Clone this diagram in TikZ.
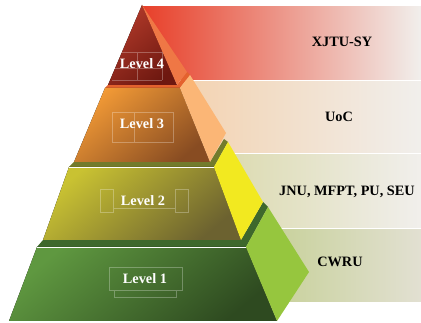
\documentclass[tikz,border=0pt]{standalone}
\usepackage{fontspec}
\setmainfont{Liberation Serif}
\usepackage{xcolor}
\usepackage{tikz}

% band colours
\definecolor{bandRed}{HTML}{E8402A}
\definecolor{bandRedMid}{HTML}{E9957A}
\definecolor{bandPeach}{HTML}{F3D2B0}
\definecolor{bandOlive}{HTML}{D9D8A8}
\definecolor{bandGreen}{HTML}{C2CE8E}
\definecolor{bandEnd}{HTML}{F1EFEC}
\definecolor{bandEndG}{HTML}{E2E0D2}

% pyramid colours
\definecolor{topFront}{HTML}{B23A2A}
\definecolor{topDark}{HTML}{6E1810}
\definecolor{topSide}{HTML}{EF7745}
\definecolor{orStrip}{HTML}{E4622E}
\definecolor{orFront}{HTML}{F29A36}
\definecolor{orDark}{HTML}{884C22}
\definecolor{orSide}{HTML}{FBB676}
\definecolor{olStrip}{HTML}{737B2C}
\definecolor{olFront}{HTML}{C9C232}
\definecolor{olDark}{HTML}{6C6230}
\definecolor{olSide}{HTML}{F2E920}
\definecolor{grStrip}{HTML}{3E682C}
\definecolor{grFront}{HTML}{5F9840}
\definecolor{grDark}{HTML}{2E4A20}
\definecolor{grSide}{HTML}{96C63E}

\begin{document}
\begin{tikzpicture}[
		x=1pt, y=-1pt,
		font=\bfseries\fontsize{14.3}{16}\selectfont,
		lvl/.style={text=white, inner sep=1pt},
		src/.style={text=black, inner sep=1pt},
		frame/.style={draw=white, draw opacity=0.28, line width=0.4pt},
		seam/.style={draw=white, line width=0.7pt}
		]
		
		\useasboundingbox (0,0) rectangle (421,323);
		
		% Bands behind the pyramid
		\fill[left color=bandRed, middle color=bandRedMid, right color=bandEnd]
		(143,7) rectangle (421,80);
		\fill[left color=bandPeach, right color=bandEnd] (180,82) rectangle (421,153);
		\fill[left color=bandOlive, right color=bandEnd] (200,155) rectangle (421,228);
		\fill[left color=bandGreen, right color=bandEndG] (240,230) rectangle (421,302);
		
		% Level 1
		\fill[grStrip] (43,240) -- (241,240) -- (263,202) -- (268,207) -- (246,247) -- (37,247) -- cycle;
		\fill[top color=grFront, bottom color=grDark, shading angle=40]
		(37,247) -- (246,247) -- (277,321) -- (9,321) -- cycle;
		\fill[grSide] (246,247) -- (268,207) -- (309,272) -- (277,321) -- cycle;
		\draw[seam] (37,247) -- (246,247);
		
		% Level 2
		\fill[olStrip] (74,162) -- (210,162) -- (224,139) -- (228,142) -- (214,167) -- (69,167) -- cycle;
		\fill[top color=olFront, bottom color=olDark, shading angle=40]
		(69,167) -- (214,167) -- (241,240) -- (43,240) -- cycle;
		\fill[olSide] (214,167) -- (228,142) -- (263,202) -- (241,240) -- cycle;
		\draw[seam] (69,167) -- (214,167);
		
		% Level 3
		\fill[orStrip] (108,85) -- (177,85) -- (187,72) -- (190,75) -- (180,88) -- (105,88) -- cycle;
		\fill[top color=orFront, bottom color=orDark, shading angle=40]
		(105,88) -- (180,88) -- (210,162) -- (74,162) -- cycle;
		\fill[orSide] (180,88) -- (190,75) -- (226,133) -- (210,162) -- cycle;
		
		% Level 4
		\fill[top color=topFront, bottom color=topDark, shading angle=40]
		(142,5) -- (177,85) -- (108,85) -- cycle;
		\fill[topSide] (142,5) -- (187,72) -- (177,85) -- cycle;
		
		% faint frames round the level labels
		\draw[frame] (112,52) -- (162,52) -- (162,80) (112,68) -- (162,68) (137,52) -- (137,80)
		(112,80) -- (162,80);
		\draw[frame] (112,112) rectangle (173,142) (134,112) -- (134,142);
		\draw[frame] (100,189) rectangle (113,212) (175,189) rectangle (188,212) (113,208) -- (175,208);
		\draw[frame] (109,267) rectangle (182,290) (114,290) -- (114,297) -- (176,297) -- (176,290);
		
		% Level labels
		\node[lvl] (l4) at (142,64) {Level 4};
		\node[lvl] (l3) at (142,124) {Level 3};
		\node[lvl] (l2) at (143,201) {Level 2};
		\node[lvl] (l1) at (145,279) {Level 1};
		
		% Data sets per level
		\node[src] (xjtu) at (342,42) {XJTU-SY};
		\node[src] (uoc) at (339,117) {UoC};
		\node[src] (jnu) at (347,192) {JNU, MFPT, PU, SEU};
		\node[src] (cwru) at (340,262) {CWRU};
		
	\end{tikzpicture}
\end{document}
